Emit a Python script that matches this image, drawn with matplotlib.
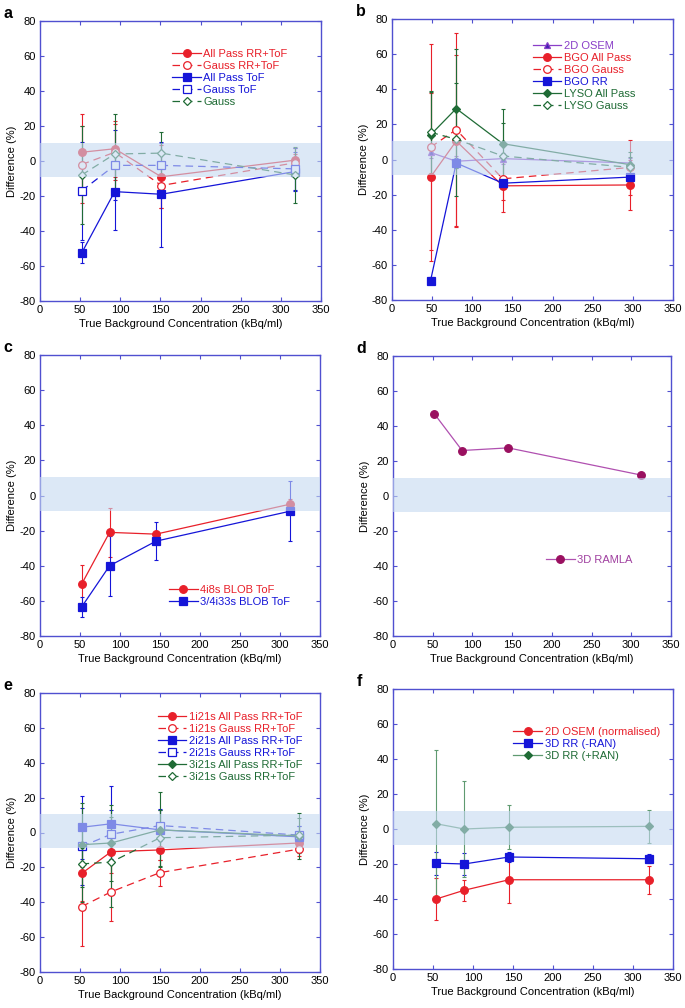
import matplotlib
matplotlib.use("Agg")
import matplotlib.pyplot as plt
import numpy as np

plt.rcParams['font.family'] = ['Liberation Sans', 'DejaVu Sans']
plt.rcParams['axes.unicode_minus'] = False

RED = '#e8202a'
BLUE = '#1515d8'
GREEN = '#1f6b35'
PURPLE = '#8a3fc8'
MAGENTA = '#9a1060'
FRAME = '#5050d0'

# ---------------- data ----------------
# panel a
a_x = [52, 93, 151, 318]
a_allpass_rrtof = [5, 7, -9, 0.5]
a_allpass_rrtof_err = [22, 16, 18, 7]
a_gauss_rrtof = [-2, 5, -14, -1]
a_gauss_rrtof_err = [22, 16, 13, 5]
a_allpass_tof = [-52.5, -17.5, -19, -6]
a_allpass_tof_err = [6, 22, 30, 11]
a_gauss_tof = [-17, -2.5, -2.5, -4.5]
a_gauss_tof_err = [28, 20, 13, 12]
a_gauss = [-8, 4, 4.5, -8]
a_gauss_err = [28, 23, 12, 16]

# panel b
b_x = [48, 80, 138, 297]
b_osem2d = [4, -1, 0.5, -2]
b_osem2d_err = [3, 3, 3, 3]
b_bgo_allpass = [-10, 10.5, -15, -14.5]
b_bgo_allpass_err = [48, 49, 15, 14.5]
b_bgo_gauss = [7, 17, -11, -4.5]
b_bgo_gauss_err = [58.5, 55, 12, 15.5]
b_bgo_rr = [-69, -2, -13.5, -10]
b_bgo_rr_err = [2, 3, 3, 2]
b_lyso_allpass = [14, 29, 9, -3]
b_lyso_allpass_err = [25, 34, 20, 7]
b_lyso_gauss = [15.5, 11.5, 2, -4.5]
b_lyso_gauss_err = [23, 32, 19, 6]

# panel c
c_x = [52, 87, 145, 312]
c_blob4i8s = [-50.5, -21, -22, -5]
c_blob4i8s_err = [11, 14, 2, 3]
c_blob34i33s = [-63.5, -40, -26, -9]
c_blob34i33s_err = [5.5, 17, 11, 17]

# panel d
d_x = [52, 87, 145, 312]
d_ramla3d = [47, 26, 27.5, 12]

# panel e
e_x = [52, 89, 150, 324]
e_1i_allpass = [-23.5, -11, -10, -6]
e_1i_allpass_err = [16, 12, 6, 4]
e_1i_gauss = [-42.5, -34, -23, -9.5]
e_1i_gauss_err = [22.5, 17, 7.5, 4]
e_2i_allpass = [3, 5, 1.5, -2.5]
e_2i_allpass_err = [18, 21.5, 12, 6]
e_2i_gauss = [-8, -1, 4, -1.5]
e_2i_gauss_err = [22, 14, 9, 5]
e_3i_allpass = [-7, -6, 1.5, -2]
e_3i_allpass_err = [24, 22, 21.5, 13]
e_3i_gauss = [-18, -17, -3, -1.5]
e_3i_gauss_err = [22, 26, 16, 10]

# panel f
f_x = [54, 89, 145, 320]
f_osem2d_norm = [-40, -35, -29, -29]
f_osem2d_norm_err = [12, 6, 13, 8]
f_rr_noran = [-19.5, -20, -16, -17]
f_rr_noran_err = [6.5, 6.5, 3, 2.5]
f_rr_ran = [3, 0, 1, 1.5]
f_rr_ran_err = [42, 27.5, 12.5, 9.5]

XLABEL = 'True Background Concentration (kBq/ml)'
YLABEL = 'Difference (%)'

fig = plt.figure(figsize=(6.85, 10.08), dpi=100)

W, H = 685.0, 1008.0
def axbox(l, r, t, b):
    return [l / W, 1 - b / H, (r - l) / W, (b - t) / H]

boxes = {
    'a': axbox(40, 321, 21, 301),
    'b': axbox(392, 673, 19, 300),
    'c': axbox(40, 320, 355, 636),
    'd': axbox(393, 671, 356, 636),
    'e': axbox(40, 320, 693, 972),
    'f': axbox(393, 673, 689, 969),
}

FS = 8.0
LFS = 8.0

def setup(ax, letter, xlabel=True):
    ax.set_xlim(0, 350)
    ax.set_ylim(-80, 80)
    ax.set_xticks(np.arange(0, 351, 50))
    ax.set_yticks(np.arange(-80, 81, 20))
    ax.tick_params(direction='in', top=True, right=True, length=3, width=0.8,
                   color=FRAME, labelsize=FS, pad=3)
    for s in ax.spines.values():
        s.set_color(FRAME)
        s.set_linewidth(1.0)
    ax.set_ylabel(YLABEL, fontsize=FS, labelpad=2)
    if xlabel:
        ax.set_xlabel(XLABEL, fontsize=FS, labelpad=3)
    ax.axhspan(-9, 10.5, color='#c5d9f1', alpha=0.6, lw=0, zorder=10)
    ax.text(-0.13, 1.0, letter, transform=ax.transAxes, fontsize=11.5,
            fontweight='bold', va='bottom', ha='left')

def series(ax, x, y, err, color, marker, filled, dashed, label, ms=5.5, lc=None,
           mfc=None):
    lc = lc or color
    ls = (0, (6, 4)) if dashed else '-'
    if err is not None:
        ax.errorbar(x, y, yerr=err, fmt='none', ecolor=lc, elinewidth=0.8,
                    capsize=1.5, capthick=0.8, zorder=2)
    face = (mfc or color) if filled else 'white'
    ln, = ax.plot(x, y, color=lc, lw=0.9, ls=ls, marker=marker, ms=ms,
                  mfc=face, mec=color, mew=0.9, label=label, zorder=3)
    return ln

def legend(ax, handles, x, ytop, fs=LFS):
    leg = ax.legend(handles=handles, loc='upper left', bbox_to_anchor=(x, ytop),
                    frameon=False, fontsize=fs, handlelength=2.6,
                    handletextpad=0.2, labelspacing=0.18, borderpad=0,
                    borderaxespad=0)
    for t, h in zip(leg.get_texts(), handles):
        t.set_color(h.get_markeredgecolor())
    leg.set_zorder(20)
    return leg

# ---- a
ax = fig.add_axes(boxes['a'])
setup(ax, 'a')
h = []
h.append(series(ax, a_x, a_allpass_rrtof, a_allpass_rrtof_err, RED, 'o', True, False, 'All Pass RR+ToF'))
h.append(series(ax, a_x, a_gauss_rrtof, a_gauss_rrtof_err, RED, 'o', False, True, 'Gauss RR+ToF'))
h.append(series(ax, a_x, a_allpass_tof, a_allpass_tof_err, BLUE, 's', True, False, 'All Pass ToF'))
h.append(series(ax, a_x, a_gauss_tof, a_gauss_tof_err, BLUE, 's', False, True, 'Gauss ToF'))
h.append(series(ax, a_x, a_gauss, a_gauss_err, GREEN, 'D', False, True, 'Gauss', ms=3.8))
legend(ax, h, 0.47, 0.899)

# ---- b
ax = fig.add_axes(boxes['b'])
setup(ax, 'b')
h = []
h.append(series(ax, b_x, b_osem2d, b_osem2d_err, PURPLE, '^', True, False, '2D OSEM', ms=4.5, mfc='#4020b0'))
h.append(series(ax, b_x, b_bgo_allpass, b_bgo_allpass_err, RED, 'o', True, False, 'BGO All Pass'))
h.append(series(ax, b_x, b_bgo_gauss, b_bgo_gauss_err, RED, 'o', False, True, 'BGO Gauss'))
h.append(series(ax, b_x, b_bgo_rr, b_bgo_rr_err, BLUE, 's', True, False, 'BGO RR'))
h.append(series(ax, b_x, b_lyso_allpass, b_lyso_allpass_err, GREEN, 'D', True, False, 'LYSO All Pass', ms=3.8))
h.append(series(ax, b_x, b_lyso_gauss, b_lyso_gauss_err, GREEN, 'D', False, True, 'LYSO Gauss', ms=3.8))
legend(ax, h, 0.5, 0.923)

# ---- c
ax = fig.add_axes(boxes['c'])
setup(ax, 'c')
h = []
h.append(series(ax, c_x, c_blob4i8s, c_blob4i8s_err, RED, 'o', True, False, '4i8s BLOB ToF'))
h.append(series(ax, c_x, c_blob34i33s, c_blob34i33s_err, BLUE, 's', True, False, '3/4i33s BLOB ToF'))
legend(ax, h, 0.46, 0.181)

# ---- d
ax = fig.add_axes(boxes['d'])
setup(ax, 'd')
h = []
h.append(series(ax, d_x, d_ramla3d, None, MAGENTA, 'o', True, False, '3D RAMLA', lc='#b050b0'))
leg = legend(ax, h, 0.55, 0.289)
leg.get_texts()[0].set_color('#a040a0')

# ---- e
ax = fig.add_axes(boxes['e'])
setup(ax, 'e')
h = []
h.append(series(ax, e_x, e_1i_allpass, e_1i_allpass_err, RED, 'o', True, False, '1i21s All Pass RR+ToF'))
h.append(series(ax, e_x, e_1i_gauss, e_1i_gauss_err, RED, 'o', False, True, '1i21s Gauss RR+ToF'))
h.append(series(ax, e_x, e_2i_allpass, e_2i_allpass_err, BLUE, 's', True, False, '2i21s All Pass RR+ToF'))
h.append(series(ax, e_x, e_2i_gauss, e_2i_gauss_err, BLUE, 's', False, True, '2i21s Gauss RR+ToF'))
h.append(series(ax, e_x, e_3i_allpass, e_3i_allpass_err, GREEN, 'D', True, False, '3i21s All Pass RR+ToF', ms=3.8))
h.append(series(ax, e_x, e_3i_gauss, e_3i_gauss_err, GREEN, 'D', False, True, '3i21s Gauss RR+ToF', ms=3.8))
legend(ax, h, 0.42, 0.933)

# ---- f
ax = fig.add_axes(boxes['f'])
setup(ax, 'f')
h = []
h.append(series(ax, f_x, f_osem2d_norm, f_osem2d_norm_err, RED, 'o', True, False, '2D OSEM (normalised)'))
h.append(series(ax, f_x, f_rr_noran, f_rr_noran_err, BLUE, 's', True, False, '3D RR (-RAN)'))
h.append(series(ax, f_x, f_rr_ran, f_rr_ran_err, GREEN, 'D', True, False, '3D RR (+RAN)', ms=3.8, lc='#5f9a70'))
legend(ax, h, 0.43, 0.863)

fig.savefig('out.png', dpi=100)
